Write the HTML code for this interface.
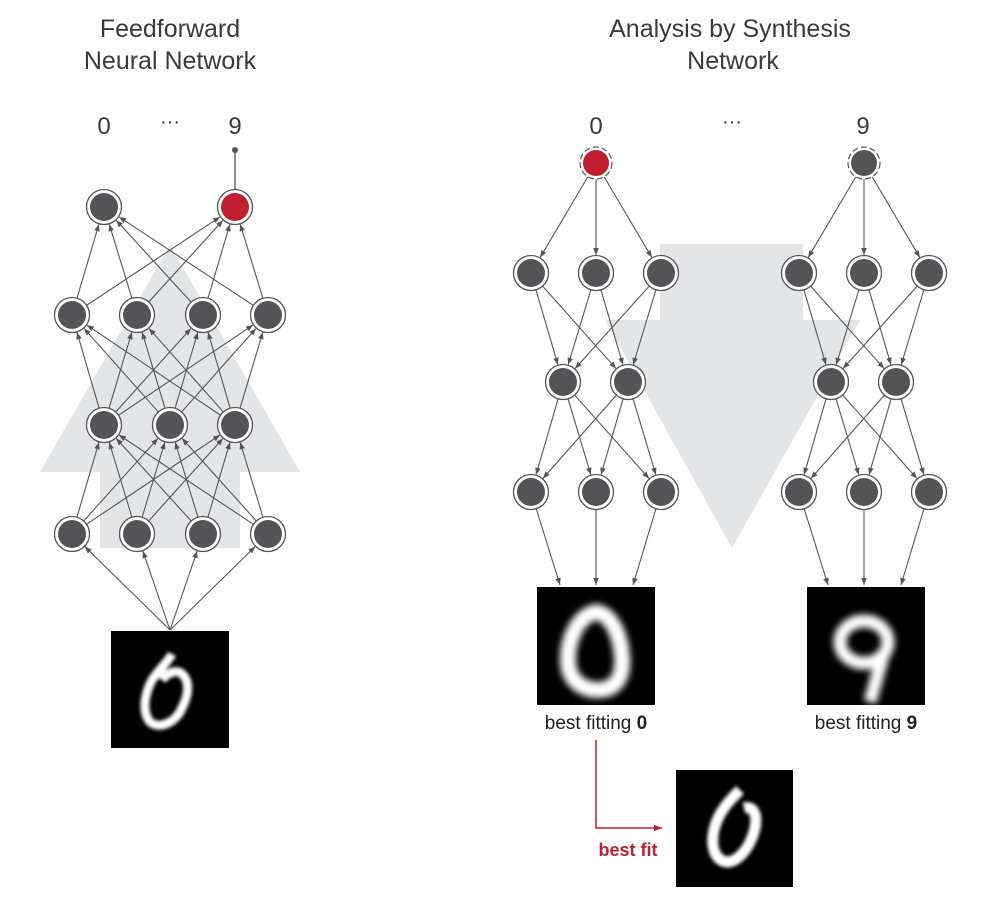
<!DOCTYPE html>
<html><head><meta charset="utf-8"><style>
html,body{margin:0;padding:0;background:#fff}
svg{display:block}
text{font-family:"Liberation Sans",sans-serif}
</style></head><body>
<svg id="s" width="1000" height="901" viewBox="0 0 1000 901" xmlns="http://www.w3.org/2000/svg">
<defs>
<marker id="ah" viewBox="0 0 10 10" refX="10" refY="5" markerWidth="7" markerHeight="7" orient="auto-start-reverse" markerUnits="userSpaceOnUse"><path d="M0,1 L10,5 L0,9 Z" fill="#555"/></marker>
<marker id="ahr" viewBox="0 0 10 10" refX="10" refY="5" markerWidth="8" markerHeight="8" orient="auto" markerUnits="userSpaceOnUse"><path d="M0,1 L10,5 L0,9 Z" fill="#c01f2f"/></marker>
<filter id="bl" x="-50%" y="-50%" width="200%" height="200%"><feGaussianBlur stdDeviation="3.5"/></filter>
<filter id="bl2" x="-50%" y="-50%" width="200%" height="200%"><feGaussianBlur stdDeviation="1.8"/></filter>
<clipPath id="c1"><rect x="111" y="631" width="118" height="117"/></clipPath>
<clipPath id="c2"><rect x="537" y="587" width="118" height="118"/></clipPath>
<clipPath id="c3"><rect x="807" y="587" width="118" height="118"/></clipPath>
<clipPath id="c4"><rect x="676" y="770" width="117" height="117"/></clipPath>
</defs>
<path d="M100,548 L100,472 L40,472 L170,245 L300,472 L240,472 L240,548 Z" fill="#e4e5e7"/>
<path d="M660,244 L803,244 L803,320 L860,320 L732,548 L605,320 L660,320 Z" fill="#e4e5e7"/>
<g fill="#3a3a3a" font-size="25" text-anchor="middle">
<text x="170" y="37">Feedforward</text>
<text x="170" y="69">Neural Network</text>
<text x="730" y="37">Analysis by Synthesis</text>
<text x="733" y="69">Network</text>
<text x="104" y="134" font-size="24">0</text>
<text x="170" y="128" font-size="20">···</text>
<text x="235" y="134" font-size="24">9</text>
<text x="596" y="134" font-size="24">0</text>
<text x="732" y="128" font-size="20">···</text>
<text x="863" y="134" font-size="24">9</text>
</g>
<g id="lines" stroke="#555" stroke-width="1.1" fill="none"></g>
<g id="nodes"></g>
<line x1="235" y1="150" x2="235" y2="190" stroke="#555" stroke-width="1.3"/>
<circle cx="235" cy="150" r="3" fill="#555"/>
<rect x="111" y="631" width="118" height="117" fill="#000"/>
<g clip-path="url(#c1)"><g filter="url(#bl2)"><path d="M172,654 C168,662 160,668 152,680 C144,695 142,712 150,722 C160,730 176,722 182,708 C188,696 190,684 184,676 C178,668 168,672 162,680" stroke="#fff" stroke-width="9" fill="none"/></g></g>
<rect x="537" y="587" width="118" height="118" fill="#000"/>
<g clip-path="url(#c2)"><g filter="url(#bl)"><path d="M596,612 C578,616 568,638 568,660 C568,680 582,690 598,690 C616,690 624,676 622,656 C620,632 610,614 596,612 Z" stroke="#fff" stroke-width="16" fill="none"/></g></g>
<rect x="807" y="587" width="118" height="118" fill="#000"/>
<g clip-path="url(#c3)"><g filter="url(#bl)"><ellipse cx="864" cy="642" rx="24" ry="21" stroke="#fff" stroke-width="13" fill="none"/><path d="M884,652 L870,702" stroke="#fff" stroke-width="13"/></g></g>
<rect x="676" y="770" width="117" height="117" fill="#000"/>
<g clip-path="url(#c4)"><g filter="url(#bl2)"><path d="M740,790 C730,800 718,812 714,830 C710,848 716,862 728,862 C742,860 752,842 755,828 C758,812 752,806 744,808" stroke="#fff" stroke-width="11" fill="none"/></g></g>
<g font-size="19" fill="#222" text-anchor="middle">
<text x="596" y="729">best fitting <tspan font-weight="bold">0</tspan></text>
<text x="866" y="729">best fitting <tspan font-weight="bold">9</tspan></text>
</g>
<path d="M596,740 L596,828 L662,828" stroke="#c01f2f" stroke-width="1.5" fill="none" marker-end="url(#ahr)"/>
<text x="628" y="856" font-size="18" font-weight="bold" fill="#c01f2f" text-anchor="middle">best fit</text>
</svg>
<script>
var NS="http://www.w3.org/2000/svg",L=document.getElementById("lines"),N=document.getElementById("nodes");
function ln(a,b,r1,r2){var dx=b[0]-a[0],dy=b[1]-a[1],d=Math.hypot(dx,dy);var l=document.createElementNS(NS,"line");
l.setAttribute("x1",a[0]+dx/d*r1);l.setAttribute("y1",a[1]+dy/d*r1);l.setAttribute("x2",b[0]-dx/d*r2);l.setAttribute("y2",b[1]-dy/d*r2);l.setAttribute("marker-end","url(#ah)");L.appendChild(l);}
function node(p,col,dash){var c=document.createElementNS(NS,"circle");c.setAttribute("cx",p[0]);c.setAttribute("cy",p[1]);
if(dash){c.setAttribute("r",16);c.setAttribute("fill","#fff");c.setAttribute("stroke","#555");c.setAttribute("stroke-dasharray","6 3");c.setAttribute("stroke-width","1.2");}
else{c.setAttribute("r",17.5);c.setAttribute("fill","#fff");c.setAttribute("stroke","#555");c.setAttribute("stroke-width","1.3");}
N.appendChild(c);var d=document.createElementNS(NS,"circle");d.setAttribute("cx",p[0]);d.setAttribute("cy",p[1]);d.setAttribute("r",dash?13:14);d.setAttribute("fill",col);N.appendChild(d);}
function full(A,B,r){A.forEach(function(a){B.forEach(function(b){ln(a,b,r,18);});});}
var y1=207,y2=315,y3=425,y4=534;
var T=[[104,y1],[235,y1]],A=[[72,y2],[137,y2],[203,y2],[268,y2]],B=[[104,y3],[170,y3],[235,y3]],C=[[72,y4],[137,y4],[203,y4],[268,y4]];
full(C,B,17);full(B,A,17);full(A,T,17);
C.forEach(function(c){ln([170,630],c,0,18);});
T.concat(A,B,C).forEach(function(p){node(p,(p[0]==235&&p[1]==y1)?"#c01f2f":"#545457");});
function abs(cx,col){var top=[cx,163];var a=[[cx-65,273],[cx,273],[cx+65,273]],b=[[cx-33,382],[cx+32,382]],c=[[cx-65,492],[cx,492],[cx+65,492]];
full([top],a,16);full(a,b,17);full(b,c,17);
var im=[[cx-36,585],[cx,585],[cx+37,585]];c.forEach(function(p,i){ln(p,im[i],17,0);});
node(top,col,true);a.concat(b,c).forEach(function(p){node(p,"#545457");});}
abs(596,"#c01f2f");abs(864,"#545457");
</script>
</body></html>
